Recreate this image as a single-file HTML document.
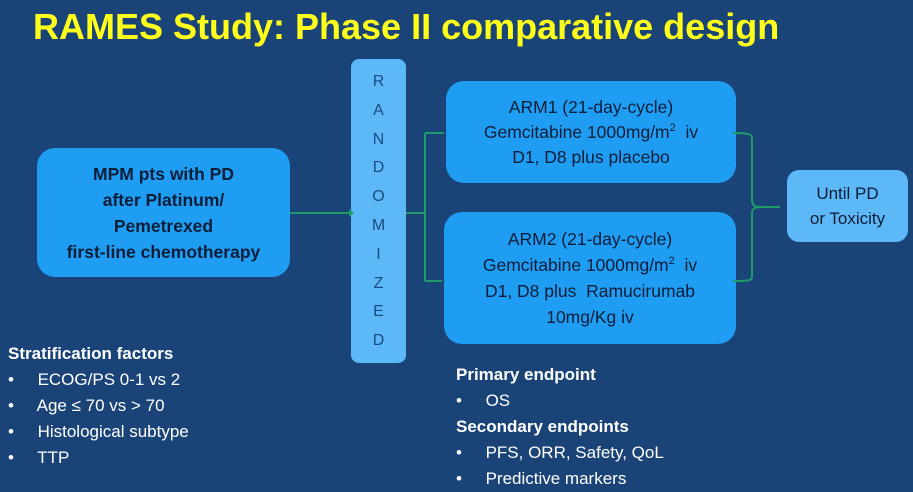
<!DOCTYPE html>
<html><head><style>
body{margin:0;width:913px;height:491px;background:#1a4478;font-family:"Liberation Sans",sans-serif;position:relative;overflow:hidden}
.a{position:absolute}
.t{left:33px;top:6px;color:#ffff1a;font-size:36px;font-weight:bold;white-space:nowrap}
.box{position:absolute;background:#1e9df2;border-radius:18px;color:#0c1d38;text-align:center;display:flex;flex-direction:column;justify-content:center;font-size:17.5px;line-height:25px;white-space:nowrap}
.lb{background:#5cb8f6}
.l{color:#fff;font-size:17px;line-height:26px;white-space:nowrap}
sup{font-size:11px;line-height:0;vertical-align:7px}
</style></head><body>
<div class="a t">RAMES Study: Phase II comparative design</div>
<div class="box" style="left:37px;top:148px;width:253px;height:129px;font-weight:bold;font-size:17.5px;line-height:26px">MPM pts with PD<br>after Platinum/<br>Pemetrexed<br>first-line chemotherapy</div>
<div class="box lb" style="left:351px;top:59px;width:55px;height:304px;border-radius:8px;justify-content:flex-start;padding-top:9px;box-sizing:border-box;font-size:16px;line-height:28.8px;color:#1d4a80">R<br>A<br>N<br>D<br>O<br>M<br>I<br>Z<br>E<br>D</div>
<div class="box" style="left:446px;top:81px;width:290px;height:102px">ARM1 (21-day-cycle)<br><span>Gemcitabine 1000mg/m<sup>2</sup>&nbsp; iv</span>D1, D8 plus placebo</div>
<div class="box" style="left:444px;top:212px;width:292px;height:132px;line-height:26px">ARM2 (21-day-cycle)<br><span>Gemcitabine 1000mg/m<sup>2</sup>&nbsp; iv</span>D1, D8 plus&nbsp; Ramucirumab<br>10mg/Kg iv</div>
<div class="box lb" style="left:787px;top:170px;width:121px;height:72px;border-radius:12px;font-size:17px;line-height:25px">Until PD<br>or Toxicity</div>
<svg class="a" style="left:0;top:0" width="913" height="491">
<g stroke="#1e9a6a" stroke-width="2" fill="none">
<path d="M290 213 H349"/><path d="M406 213 H425 M425 133 V281 M425 133 H444 M425 281 H442"/>
<path d="M733 133 C752 133 752 135 752 140 V200 C752 206 755 207 762 207 C755 207 752 208 752 214 V275 C752 281 750 281 733 281"/>
<path d="M762 207 H780"/>
</g>
<g fill="#1e9a6a"><path d="M349 209 L354 213 L349 217Z"/></g>
</svg>
<div class="a l" style="left:8px;top:341px"><b>Stratification factors</b><br>•&nbsp;&nbsp;&nbsp;&nbsp; ECOG/PS 0-1 vs 2<br>•&nbsp;&nbsp;&nbsp;&nbsp; Age ≤ 70 vs &gt; 70<br>•&nbsp;&nbsp;&nbsp;&nbsp; Histological subtype<br>•&nbsp;&nbsp;&nbsp;&nbsp; TTP</div>
<div class="a l" style="left:456px;top:362px"><b>Primary endpoint</b><br>•&nbsp;&nbsp;&nbsp;&nbsp; OS<br><b>Secondary endpoints</b><br>•&nbsp;&nbsp;&nbsp;&nbsp; PFS, ORR, Safety, QoL<br>•&nbsp;&nbsp;&nbsp;&nbsp; Predictive markers</div>
</body></html>
